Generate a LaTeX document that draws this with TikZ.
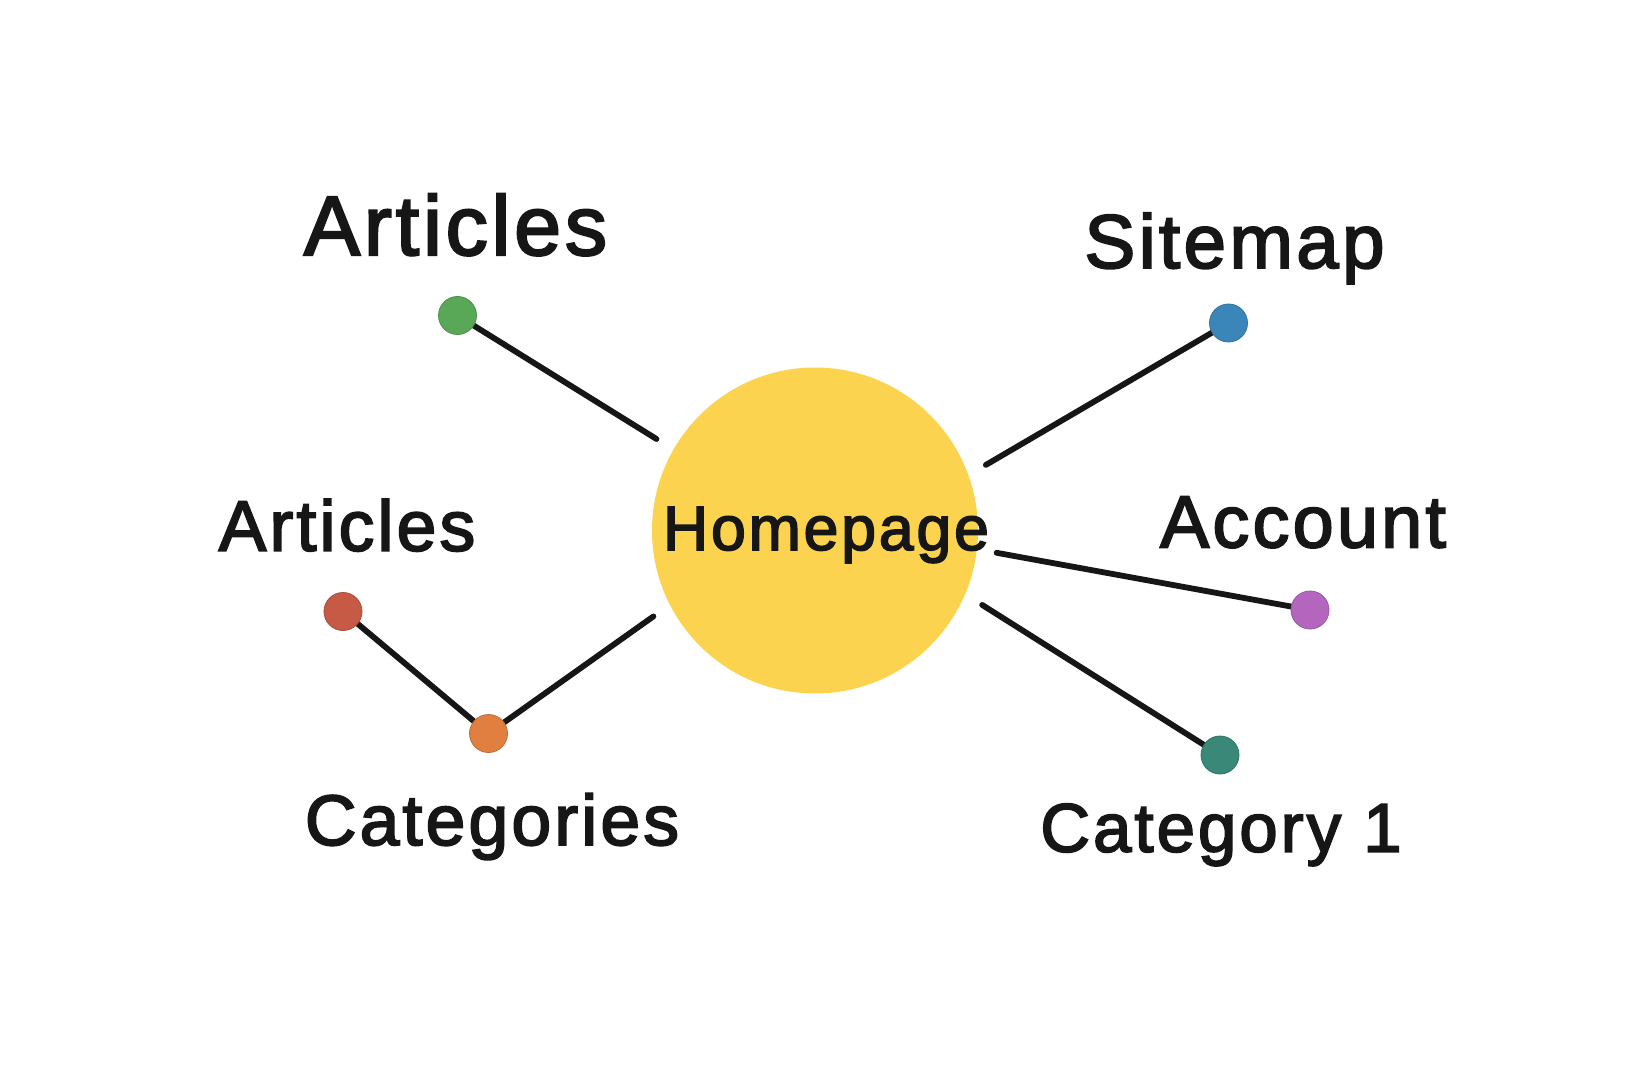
\documentclass[tikz,border=0pt]{standalone}
\usepackage{fontspec}
\usetikzlibrary{backgrounds}
\newfontfamily\lblfont{Liberation Sans}[FakeBold=2.6,LetterSpace=4.5]
\definecolor{ink}{HTML}{161616}
\definecolor{sun}{HTML}{FCD34E}
\definecolor{dotgreen}{HTML}{58A858}
\definecolor{dotblue}{HTML}{3A86B8}
\definecolor{dotred}{HTML}{C65A45}
\definecolor{dotorange}{HTML}{E07F40}
\definecolor{dotpurple}{HTML}{B466BE}
\definecolor{dotteal}{HTML}{3A8877}
\begin{document}
\begin{tikzpicture}[x=0.5pt,y=-0.5pt,
  hub/.style={circle,fill=sun,draw=none,minimum size=163pt,inner sep=0pt,outer sep=10pt},
  leaf/.style={circle,fill=#1,draw=#1!85!black,line width=0.4pt,minimum size=19pt,inner sep=0pt},
  link/.style={draw=ink,line width=2.9pt,line cap=round},
  lbl/.style={anchor=base,inner sep=0pt,text=ink,font=\lblfont\fontsize{#1}{#1}\selectfont}]
  \useasboundingbox (0,0) rectangle (1628,1085);

  % central page
  \node[hub] (home) at (815,530.5) {};

  % child pages
  \node[leaf=dotgreen]  (artA) at (457.5,315.5) {};
  \node[leaf=dotblue]   (site) at (1228.5,323) {};
  \node[leaf=dotred]    (artB) at (343,611.5) {};
  \node[leaf=dotorange] (cats) at (488.5,733.5) {};
  \node[leaf=dotpurple] (acct) at (1310,610) {};
  \node[leaf=dotteal]   (cat1) at (1220,755) {};

  % connectors, kept beneath the dots
  \begin{scope}[on background layer]
    \fill[white] (0,0) rectangle (1628,1085);
    \draw[link] (artA.center) -- (home.150);
    \draw[link] (site.center) -- (home.21);
    \draw[link] (acct.center) -- (home.-7);
    \draw[link] (cat1.center) -- (home.-24);
    \draw[link] (cats.center) -- (home.208);
    \draw[link] (artB.center) -- (cats.center);
  \end{scope}

  % labels
  \node[lbl=42.2pt] (tArtA) at (455.5,255)   {Articles};
  \node[lbl=38.1pt] (tSite) at (1234.5,268)  {Sitemap};
  \node[lbl=35.7pt] (tArtB) at (347,550.7)   {Articles};
  \node[lbl=31.3pt] (tHome) at (826,550)     {Homepage};
  \node[lbl=36.8pt] (tAcct) at (1303,547.3)  {Account};
  \node[lbl=35.7pt] (tCats) at (492,845)     {Categories};
  \node[lbl=34.4pt] (tCat1) at (1221,851.7)  {Category 1};
\end{tikzpicture}
\end{document}
